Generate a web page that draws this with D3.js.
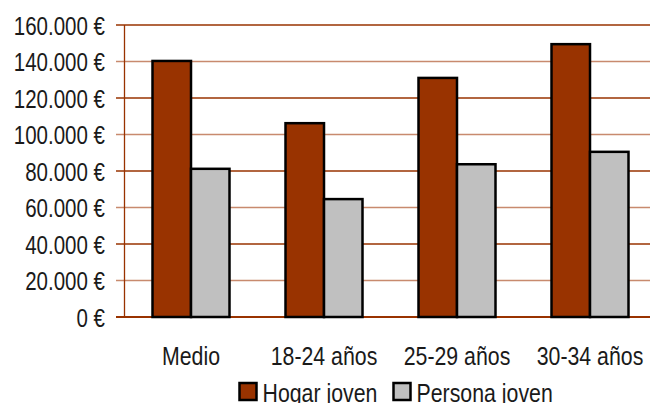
<!DOCTYPE html>
<html>
<head>
<meta charset="utf-8">
<script src="https://cdn.jsdelivr.net/npm/d3@7"></script>
<style>
  body { margin: 0; background: #fff; }
  svg { display: block; }
  text { font-family: "Liberation Sans", Arial, sans-serif; fill: #1a1a1a; }
</style>
</head>
<body>
<svg id="chart" width="650" height="403"></svg>
<script>
const categories = ['Medio', '18-24 años', '25-29 años', '30-34 años'];
const series = ['Hogar joven', 'Persona joven'];
const hogarJoven = [140300, 106200, 131000, 149500];
const personaJoven = [81200, 64600, 83700, 90500];
const yTicks = [0, 20000, 40000, 60000, 80000, 100000, 120000, 140000, 160000];
const colors = { 'Hogar joven': '#993300', 'Persona joven': '#c0c0c0' };

const width = 650, height = 403;
const plot = { left: 124.5, right: 656.5, top: 25, bottom: 317 };
const narrow = 0.82; // squeeze Liberation Sans to look like Arial Narrow

const svg = d3.select('#chart');

const y = d3.scaleLinear()
  .domain([0, 160000])
  .range([plot.bottom, plot.top]);

const x0 = d3.scaleBand()
  .domain(categories)
  .range([plot.left, plot.right])
  .padding(0);

const x1 = d3.scaleBand()
  .domain(series)
  .range([28, 105]);

const fmt = d => d3.format(',')(d).replace(/,/g, '.') + ' €';

// gridlines (alternating tones like the original)
svg.append('g')
  .selectAll('line')
  .data(yTicks)
  .join('line')
  .attr('x1', 116)
  .attr('x2', width)
  .attr('y1', d => y(d))
  .attr('y2', d => y(d))
  .attr('stroke', d => (d / 20000) % 2 === 0 ? '#993300' : '#c88a6e')
  .attr('stroke-width', d => d === 0 ? 2 : 1.3);

// y axis line
svg.append('line')
  .attr('x1', plot.left)
  .attr('x2', plot.left)
  .attr('y1', plot.top)
  .attr('y2', plot.bottom)
  .attr('stroke', '#993300')
  .attr('stroke-width', 1.3);

// tick labels
const yAxis = svg.append('g')
  .attr('transform', 'translate(105,0)')
  .call(d3.axisLeft(y).tickValues(yTicks).tickFormat(fmt).tickSize(0).tickPadding(0));
yAxis.select('.domain').remove();
yAxis.selectAll('text')
  .attr('x', 0)
  .attr('font-size', 25)
  .attr('dy', '0.36em')
  .attr('transform', `scale(${narrow},1)`)
  .attr('font-family', null)
  .style('fill', '#1a1a1a');

// bars
const rows = categories.map((c, i) => ({
  cat: c,
  values: [
    { key: 'Hogar joven', value: hogarJoven[i] },
    { key: 'Persona joven', value: personaJoven[i] }
  ]
}));

const groups = svg.append('g')
  .selectAll('g')
  .data(rows)
  .join('g')
  .attr('transform', d => `translate(${x0(d.cat)},0)`);

groups.selectAll('rect')
  .data(d => d.values)
  .join('rect')
  .attr('x', d => x1(d.key))
  .attr('width', x1.bandwidth())
  .attr('y', d => y(d.value))
  .attr('height', d => y(0) - y(d.value))
  .attr('fill', d => colors[d.key])
  .attr('stroke', '#000')
  .attr('stroke-width', 2.5);

// category labels
svg.append('g')
  .selectAll('text')
  .data(categories)
  .join('text')
  .attr('transform', d => `translate(${x0(d) + x0.bandwidth() / 2},365) scale(${narrow},1)`)
  .attr('text-anchor', 'middle')
  .attr('font-size', 26)
  .text(d => d);

// legend
const legendPos = [239.5, 393.5];
const legend = svg.append('g')
  .selectAll('g')
  .data(series)
  .join('g')
  .attr('transform', (d, i) => `translate(${legendPos[i]},383)`);

legend.append('rect')
  .attr('width', 17)
  .attr('height', 17)
  .attr('fill', d => colors[d])
  .attr('stroke', '#000')
  .attr('stroke-width', 2.5);

legend.append('text')
  .attr('transform', `translate(23,19) scale(${narrow},1)`)
  .attr('font-size', 26)
  .text(d => d);
</script>
</body>
</html>
